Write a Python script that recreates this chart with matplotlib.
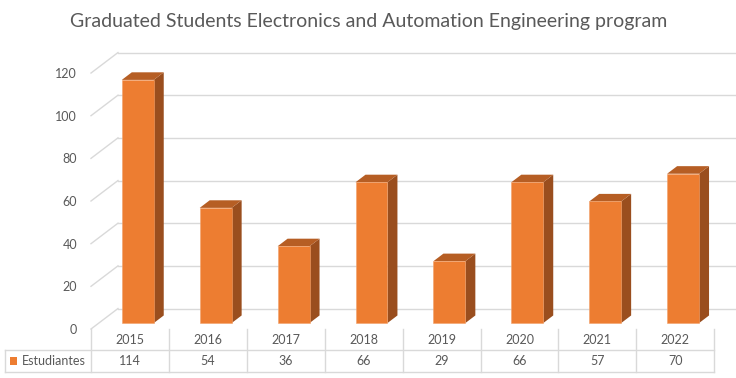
import numpy as np
import matplotlib.pyplot as plt
from matplotlib.patches import Polygon, Rectangle

years = ["2015", "2016", "2017", "2018", "2019", "2020", "2021", "2022"]
students = [114, 54, 36, 66, 29, 66, 57, 70]
yticks = [0, 20, 40, 60, 80, 100, 120]

title = "Graduated Students Electronics and Automation Engineering program"
series_name = "Estudiantes"

W, H = 736, 378
px_cat = 77.9     # pixels per category
px_val = 2.133    # pixels per unit value

plt.rcParams['font.family'] = ['Lato', 'DejaVu Sans']

fig = plt.figure(figsize=(W / 100, H / 100), dpi=100)
ax = fig.add_axes([91 / W, (H - 329) / H, (W - 91) / W, (329 - 52) / H])
ax.set_xlim(-0.5, -0.5 + (W - 91) / px_cat)
ax.set_ylim(0, (329 - 52) / px_val)
for s in ax.spines.values():
    s.set_visible(False)
ax.set_xticks([])
ax.set_yticks(yticks)
ax.tick_params(axis='y', length=0, pad=10, labelsize=9, labelcolor='#595959')

# depth of the floor in data units
DX = 27 / px_cat
DY = 20.5 / px_val
grid_c = '#d9d9d9'
x0 = -0.5
xmax = ax.get_xlim()[1]
for v in yticks:
    ax.plot([x0, x0 + DX], [v, v + DY], color=grid_c, lw=1, zorder=1, clip_on=False)
    ax.plot([x0 + DX, xmax], [v + DY, v + DY], color=grid_c, lw=1, zorder=1, clip_on=False)

# bars
f0, fd = 0.29, 0.37
bw = 0.41
xs = np.arange(len(years)) + f0 * DX
base = f0 * DY
ax.bar(xs, students, width=bw, bottom=base, color='#ED7D31', zorder=3,
       edgecolor='#F2A26B', linewidth=0.4)
ddx, ddy = fd * DX, fd * DY
for x, v in zip(xs, students):
    r = x + bw / 2
    l = x - bw / 2
    top = base + v
    side = Polygon([(r, base), (r + ddx, base + ddy), (r + ddx, top + ddy), (r, top)],
                   closed=True, facecolor='#9A4E1E', edgecolor='none', zorder=2)
    cap = Polygon([(l, top), (r, top), (r + ddx, top + ddy), (l + ddx, top + ddy)],
                  closed=True, facecolor='#B65E24', edgecolor='none', zorder=2)
    ax.add_patch(side)
    ax.add_patch(cap)

# data table under the plot
y_row1 = -21 / px_val
y_row2 = -43 / px_val
x_left = x0 - 86 / px_cat
n = len(years)
for k in range(n + 1):
    ax.plot([x0 + k, x0 + k], [0, y_row2], color=grid_c, lw=1, clip_on=False)
ax.plot([x_left, x0 + n], [y_row1, y_row1], color=grid_c, lw=1, clip_on=False)
ax.plot([x_left, x0 + n], [y_row2, y_row2], color=grid_c, lw=1, clip_on=False)
ax.plot([x_left, x_left], [y_row1, y_row2], color=grid_c, lw=1, clip_on=False)
for i, (yr, v) in enumerate(zip(years, students)):
    ax.text(i, y_row1 / 2 - 0.4, yr, ha='center', va='center', fontsize=9, color='#595959')
    ax.text(i, (y_row1 + y_row2) / 2, str(v), ha='center', va='center', fontsize=9,
            color='#595959')
ax.add_patch(Rectangle((x_left + 5 / px_cat, (y_row1 + y_row2) / 2 - 3.6 / px_val),
                       7 / px_cat, 7.2 / px_val, facecolor='#ED7D31', edgecolor='none',
                       clip_on=False))
ax.text(x_left + 17 / px_cat, (y_row1 + y_row2) / 2, series_name, ha='left', va='center',
        fontsize=9, color='#595959')

fig.text(369 / W, 1 - 21 / H, title, ha='center', va='center', fontsize=14,
         color='#595959')

fig.savefig('out.png', dpi=100)
